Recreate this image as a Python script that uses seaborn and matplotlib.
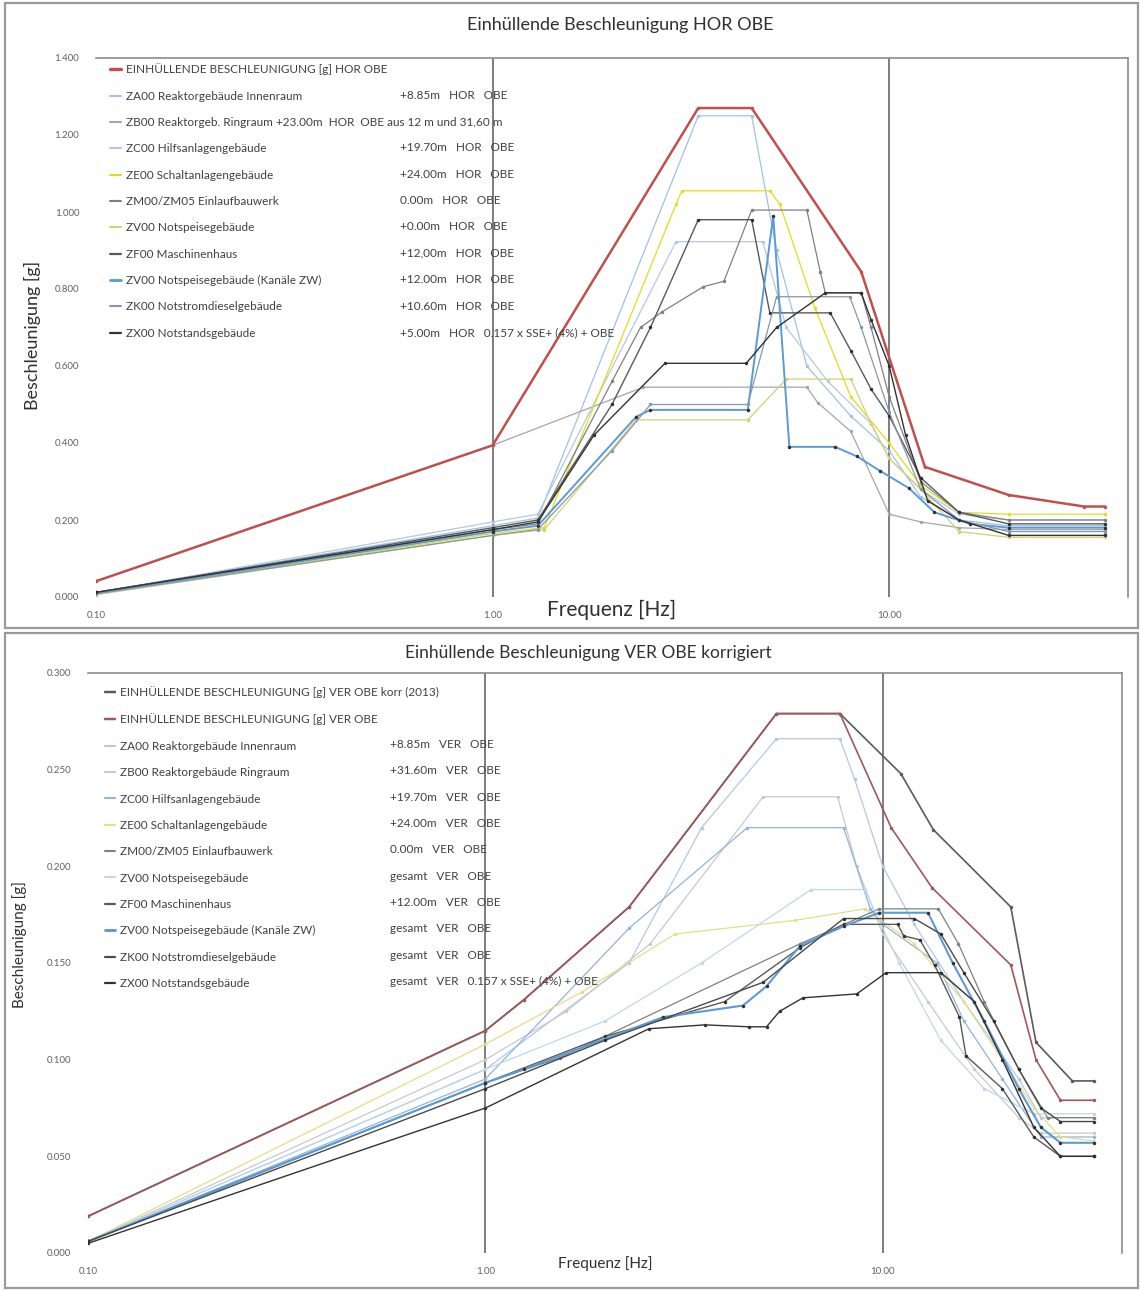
import matplotlib
matplotlib.use("Agg")
import matplotlib.pyplot as plt
from matplotlib.lines import Line2D
from matplotlib.patches import Rectangle
from matplotlib.ticker import FixedLocator, FixedFormatter, NullLocator
import seaborn as sns

sns.set_theme(style="white")
plt.rcParams['font.family'] = ['Lato', 'DejaVu Sans']

# ---------------- Daten HOR OBE (oberes Diagramm) ----------------
hor_env_f = [0.1, 1.0, 3.3, 4.5, 8.5, 12.3, 20.0, 31.0, 35.0]
hor_env_g = [0.041, 0.394, 1.270, 1.270, 0.845, 0.338, 0.265, 0.235, 0.235]

hor_za_f = [0.1, 1.0, 1.3, 3.3, 4.5, 5.2, 6.2, 8.0, 10.0, 12.0, 15.0, 20.0, 35.0]
hor_za_g = [0.012, 0.185, 0.205, 1.250, 1.250, 0.900, 0.600, 0.470, 0.380, 0.260, 0.200, 0.185, 0.185]

hor_zb_f = [0.1, 1.0, 2.4, 6.2, 6.6, 8.0, 10.0, 12.0, 15.0, 20.0, 35.0]
hor_zb_g = [0.041, 0.394, 0.545, 0.545, 0.505, 0.430, 0.215, 0.195, 0.180, 0.175, 0.175]

hor_zc_f = [0.1, 1.0, 1.3, 2.9, 4.8, 5.5, 7.0, 9.0, 10.0, 12.0, 15.0, 20.0, 35.0]
hor_zc_g = [0.010, 0.195, 0.215, 0.923, 0.923, 0.700, 0.560, 0.450, 0.360, 0.280, 0.215, 0.200, 0.200]

hor_ze_f = [0.1, 1.0, 1.35, 2.9, 3.0, 5.0, 5.3, 6.5, 8.0, 10.0, 12.0, 15.0, 20.0, 35.0]
hor_ze_g = [0.008, 0.165, 0.180, 1.020, 1.055, 1.055, 1.020, 0.750, 0.520, 0.400, 0.290, 0.220, 0.215, 0.215]

hor_zm_f = [0.1, 1.0, 1.3, 2.0, 2.36, 2.67, 3.4, 3.83, 4.5, 6.2, 6.7, 6.9, 8.5, 9.0, 10.0, 12.0, 15.0, 20.0, 35.0]
hor_zm_g = [0.010, 0.175, 0.190, 0.560, 0.700, 0.740, 0.806, 0.820, 1.005, 1.005, 0.845, 0.790, 0.790, 0.700, 0.520, 0.300, 0.220, 0.200, 0.200]

hor_zv_f = [0.1, 1.0, 1.35, 2.3, 4.4, 5.5, 8.0, 9.0, 10.0, 12.0, 15.0, 20.0, 35.0]
hor_zv_g = [0.006, 0.160, 0.175, 0.460, 0.460, 0.566, 0.566, 0.450, 0.360, 0.280, 0.170, 0.155, 0.155]

hor_zf_f = [0.1, 1.0, 1.3, 2.0, 2.5, 3.3, 4.5, 5.0, 7.1, 8.0, 9.0, 10.0, 12.0, 15.0, 20.0, 35.0]
hor_zf_g = [0.012, 0.180, 0.200, 0.500, 0.700, 0.980, 0.980, 0.738, 0.738, 0.640, 0.540, 0.470, 0.310, 0.220, 0.190, 0.190]

hor_zw_f = [0.1, 1.0, 1.3, 2.3, 2.5, 4.4, 5.1, 5.6, 7.3, 8.3, 9.5, 11.2, 13.0, 16.0, 20.0, 35.0]
hor_zw_g = [0.010, 0.170, 0.185, 0.468, 0.486, 0.486, 0.990, 0.390, 0.390, 0.365, 0.327, 0.283, 0.220, 0.190, 0.180, 0.180]

hor_zk_f = [0.1, 1.0, 1.3, 2.0, 2.5, 4.4, 5.2, 7.95, 8.5, 10.0, 12.0, 15.0, 20.0, 35.0]
hor_zk_g = [0.008, 0.160, 0.175, 0.380, 0.500, 0.500, 0.780, 0.780, 0.700, 0.480, 0.280, 0.200, 0.170, 0.170]

hor_zx_f = [0.1, 1.0, 1.3, 1.8, 2.72, 4.36, 5.2, 6.9, 8.5, 9.0, 10.0, 11.0, 12.5, 15.0, 20.0, 35.0]
hor_zx_g = [0.012, 0.175, 0.195, 0.420, 0.607, 0.607, 0.700, 0.790, 0.790, 0.720, 0.600, 0.420, 0.250, 0.200, 0.160, 0.160]

hor_names = [
    "EINHÜLLENDE BESCHLEUNIGUNG [g] HOR OBE",
    "ZA00 Reaktorgebäude Innenraum",
    "ZB00 Reaktorgeb. Ringraum +23.00m  HOR  OBE aus 12 m und 31,60 m",
    "ZC00 Hilfsanlagengebäude",
    "ZE00 Schaltanlagengebäude",
    "ZM00/ZM05 Einlaufbauwerk",
    "ZV00 Notspeisegebäude",
    "ZF00 Maschinenhaus",
    "ZV00 Notspeisegebäude (Kanäle ZW)",
    "ZK00 Notstromdieselgebäude",
    "ZX00 Notstandsgebäude",
]
hor_suffix = [
    " ", "+8.85m   HOR   OBE", " ", "+19.70m   HOR   OBE", "+24.00m   HOR   OBE",
    "0.00m   HOR   OBE", "+0.00m   HOR   OBE", "+12,00m   HOR   OBE", "+12.00m   HOR   OBE",
    "+10.60m   HOR   OBE", "+5.00m   HOR   0.157 x SSE+ (4%) + OBE",
]

# ---------------- Daten VER OBE korrigiert (unteres Diagramm) ----------------
ver_envk_f = [0.1, 1.0, 1.25, 2.3, 5.4, 7.8, 11.1, 13.4, 21.0, 24.3, 30.0, 34.0]
ver_envk_g = [0.019, 0.115, 0.131, 0.179, 0.279, 0.279, 0.248, 0.219, 0.179, 0.109, 0.089, 0.089]

ver_env_f = [0.1, 1.0, 1.25, 2.3, 5.4, 7.8, 10.5, 13.3, 21.0, 24.3, 28.0, 34.0]
ver_env_g = [0.019, 0.115, 0.131, 0.179, 0.279, 0.279, 0.220, 0.189, 0.149, 0.100, 0.079, 0.079]

ver_za_f = [0.1, 1.0, 2.3, 3.5, 5.4, 7.8, 8.5, 10.0, 12.0, 16.0, 22.0, 25.0, 34.0]
ver_za_g = [0.006, 0.095, 0.150, 0.220, 0.266, 0.266, 0.245, 0.200, 0.170, 0.130, 0.090, 0.070, 0.070]

ver_zb_f = [0.1, 1.0, 1.6, 2.6, 5.0, 7.7, 8.6, 10.0, 13.0, 17.0, 22.0, 25.0, 34.0]
ver_zb_g = [0.006, 0.100, 0.125, 0.160, 0.236, 0.236, 0.200, 0.165, 0.130, 0.095, 0.070, 0.062, 0.062]

ver_zc_f = [0.1, 1.0, 2.3, 4.56, 7.97, 9.3, 10.0, 13.7, 16.0, 20.0, 25.0, 34.0]
ver_zc_g = [0.006, 0.090, 0.168, 0.220, 0.220, 0.178, 0.170, 0.150, 0.120, 0.090, 0.060, 0.060]

ver_ze_f = [0.1, 1.0, 1.75, 3.0, 6.0, 9.0, 12.0, 16.0, 20.0, 24.0, 28.0, 34.0]
ver_ze_g = [0.006, 0.108, 0.135, 0.165, 0.172, 0.178, 0.160, 0.130, 0.100, 0.075, 0.060, 0.058]

ver_zm_f = [0.1, 1.0, 1.54, 6.2, 9.8, 13.8, 15.5, 18.0, 22.0, 26.0, 34.0]
ver_zm_g = [0.006, 0.088, 0.101, 0.160, 0.178, 0.178, 0.160, 0.130, 0.095, 0.070, 0.070]

ver_zv_f = [0.1, 1.0, 2.0, 3.5, 6.6, 9.0, 11.0, 14.0, 18.0, 24.0, 34.0]
ver_zv_g = [0.006, 0.095, 0.120, 0.150, 0.188, 0.188, 0.150, 0.110, 0.085, 0.072, 0.072]

ver_zf_f = [0.1, 1.0, 2.0, 4.0, 6.2, 7.97, 10.9, 11.3, 12.4, 13.5, 15.6, 16.2, 20.0, 24.0, 28.0, 34.0]
ver_zf_g = [0.006, 0.088, 0.112, 0.130, 0.158, 0.170, 0.170, 0.164, 0.162, 0.149, 0.122, 0.102, 0.085, 0.060, 0.050, 0.050]

ver_zw_f = [0.1, 1.0, 1.25, 2.8, 4.45, 5.1, 6.2, 7.97, 9.8, 13.0, 15.0, 18.0, 22.0, 25.0, 28.0, 34.0]
ver_zw_g = [0.006, 0.088, 0.095, 0.122, 0.128, 0.138, 0.159, 0.169, 0.176, 0.176, 0.150, 0.120, 0.085, 0.065, 0.057, 0.057]

ver_zk_f = [0.1, 1.0, 2.0, 5.0, 7.97, 12.0, 14.0, 16.0, 19.0, 22.0, 25.0, 28.0, 34.0]
ver_zk_g = [0.006, 0.085, 0.110, 0.140, 0.173, 0.173, 0.165, 0.145, 0.120, 0.095, 0.075, 0.068, 0.068]

ver_zx_f = [0.1, 1.0, 2.58, 3.57, 4.6, 5.1, 5.5, 6.3, 8.6, 10.2, 14.0, 17.0, 20.0, 24.0, 28.0, 34.0]
ver_zx_g = [0.005, 0.075, 0.116, 0.118, 0.117, 0.117, 0.125, 0.132, 0.134, 0.145, 0.145, 0.130, 0.100, 0.065, 0.050, 0.050]

ver_names = [
    "EINHÜLLENDE BESCHLEUNIGUNG [g] VER OBE korr (2013)",
    "EINHÜLLENDE BESCHLEUNIGUNG [g] VER OBE",
    "ZA00 Reaktorgebäude Innenraum",
    "ZB00 Reaktorgebäude Ringraum",
    "ZC00 Hilfsanlagengebäude",
    "ZE00 Schaltanlagengebäude",
    "ZM00/ZM05 Einlaufbauwerk",
    "ZV00 Notspeisegebäude",
    "ZF00 Maschinenhaus",
    "ZV00 Notspeisegebäude (Kanäle ZW)",
    "ZK00 Notstromdieselgebäude",
    "ZX00 Notstandsgebäude",
]
ver_suffix = [
    " ", " ", "+8.85m   VER   OBE", "+31.60m   VER   OBE", "+19.70m   VER   OBE",
    "+24.00m   VER   OBE", "0.00m   VER   OBE", "gesamt   VER   OBE", "+12.00m   VER   OBE",
    "gesamt   VER   OBE", "gesamt   VER   OBE", "gesamt   VER   0.157 x SSE+ (4%) + OBE",
]

# Farben / Linienstärken (Reihenfolge wie Legende)
hor_colors = ['#c0504d', '#9dc3e6', '#a6a6a6', '#b4c7e7', '#e3dc1c', '#808080',
              '#d6cf73', '#595959', '#5b9bd5', '#8497b0', '#333333']
hor_widths = [1.8, 0.9, 0.9, 0.9, 0.9, 0.9, 0.9, 1.0, 1.4, 0.9, 1.0]
ver_colors = ['#5a5a5a', '#a0585a', '#b4c7e7', '#c9c9c9', '#8fb4de', '#e3de8a',
              '#808080', '#bdd7ee', '#595959', '#5b9bd5', '#4a4a4a', '#333333']
ver_widths = [1.2, 1.2, 0.9, 0.9, 0.9, 0.9, 0.9, 0.9, 1.0, 1.5, 1.0, 1.0]

hor_series = [(hor_env_f, hor_env_g), (hor_za_f, hor_za_g), (hor_zb_f, hor_zb_g),
              (hor_zc_f, hor_zc_g), (hor_ze_f, hor_ze_g), (hor_zm_f, hor_zm_g),
              (hor_zv_f, hor_zv_g), (hor_zf_f, hor_zf_g), (hor_zw_f, hor_zw_g),
              (hor_zk_f, hor_zk_g), (hor_zx_f, hor_zx_g)]
ver_series = [(ver_envk_f, ver_envk_g), (ver_env_f, ver_env_g), (ver_za_f, ver_za_g),
              (ver_zb_f, ver_zb_g), (ver_zc_f, ver_zc_g), (ver_ze_f, ver_ze_g),
              (ver_zm_f, ver_zm_g), (ver_zv_f, ver_zv_g), (ver_zf_f, ver_zf_g),
              (ver_zw_f, ver_zw_g), (ver_zk_f, ver_zk_g), (ver_zx_f, ver_zx_g)]

W, H = 1141, 1291
fig = plt.figure(figsize=(W / 100, H / 100), dpi=100)
fig.patch.set_facecolor('white')

ax1 = fig.add_axes([96 / W, 1 - 597 / H, 1032 / W, 539 / H])
ax2 = fig.add_axes([88 / W, 1 - 1253 / H, 1034 / W, 580 / H])

TXT = '#404040'


def draw_panel(ax, series, colors, widths, names, suffix, n_env, ymax, ystep,
               leg_x0, leg_x1, leg_y, fs):
    handles = []
    # erst die Bauwerkskurven, dann die Einhüllende(n) oben drauf
    order = list(range(n_env, len(series))) + list(range(n_env))
    for i in order:
        f, g = series[i]
        col = colors[i]
        mcol = '#303030' if i >= n_env and widths[i] >= 1.0 else col
        sns.lineplot(x=f, y=g, ax=ax, color=col, lw=widths[i], marker='o',
                     markersize=2.5, markerfacecolor=mcol, markeredgecolor=mcol,
                     markeredgewidth=0, estimator=None, sort=False, legend=False,
                     zorder=5 if i < n_env else 3)
    for i in range(len(series)):
        handles.append(Line2D([0], [0], color=colors[i], lw=widths[i] + 0.6))

    ax.set_xscale('log')
    ax.set_xlim(0.1, 40)
    ax.set_ylim(0, ymax)
    ax.xaxis.set_major_locator(FixedLocator([0.1, 1, 10]))
    ax.xaxis.set_major_formatter(FixedFormatter(['0.10', '1.00', '10.00']))
    ax.xaxis.set_minor_locator(NullLocator())
    nt = int(round(ymax / ystep)) + 1
    yt = [k * ystep for k in range(nt)]
    ax.set_yticks(yt)
    ax.set_yticklabels([f"{v:.3f}" for v in yt])
    ax.tick_params(axis='both', length=0, labelsize=7, colors='#606060')
    ax.tick_params(axis='y', pad=12)
    ax.tick_params(axis='x', pad=10)
    for s in ['left', 'bottom']:
        ax.spines[s].set_visible(False)
    for s in ['top', 'right']:
        ax.spines[s].set_color('#8c8c8c')
        ax.spines[s].set_linewidth(1.2)
    ax.axvline(1, color='#5a5a5a', lw=1.1, zorder=1)
    ax.axvline(10, color='#5a5a5a', lw=1.1, zorder=1)
    ax.set_facecolor('white')

    leg1 = ax.legend(handles, names, loc='upper left', bbox_to_anchor=(leg_x0, leg_y),
                     frameon=False, fontsize=fs, labelspacing=1.3, handlelength=0.9,
                     handletextpad=0.4, borderpad=0, borderaxespad=0, labelcolor=TXT)
    ax.add_artist(leg1)
    blank = [Line2D([], [], lw=0) for _ in suffix]
    ax.legend(blank, suffix, loc='upper left', bbox_to_anchor=(leg_x1, leg_y),
              frameon=False, fontsize=fs, labelspacing=1.3, handlelength=0,
              handletextpad=0, borderpad=0, borderaxespad=0, labelcolor=TXT)


draw_panel(ax1, hor_series, hor_colors, hor_widths, hor_names, hor_suffix, 1,
           1.4, 0.2, 0.014, 0.295, 0.99, 8.5)
draw_panel(ax2, ver_series, ver_colors, ver_widths, ver_names, ver_suffix, 2,
           0.3, 0.05, 0.016, 0.292, 0.977, 8.5)

# Achsenbeschriftungen
fig.text(620 / W, 1 - 25 / H, "Einhüllende Beschleunigung HOR OBE", ha='center',
         va='center', fontsize=13, color='#303030')
fig.text(588 / W, 1 - 653 / H, "Einhüllende Beschleunigung VER OBE korrigiert",
         ha='center', va='center', fontsize=12.5, color='#303030')
fig.text(32 / W, 1 - 335 / H, "Beschleunigung [g]", rotation=90, ha='center',
         va='center', fontsize=13, color='#303030')
fig.text(20 / W, 1 - 945 / H, "Beschleunigung [g]", rotation=90, ha='center',
         va='center', fontsize=11, color='#303030')
fig.text(612 / W, 1 - 610 / H, "Frequenz [Hz]", ha='center', va='center',
         fontsize=15, color='#303030')
fig.text(605 / W, 1 - 1264 / H, "Frequenz [Hz]", ha='center', va='center',
         fontsize=11, color='#303030')

# Rahmen der beiden Diagramme
for (x0, y0, x1, y1) in [(5, 3, 1138, 628), (5, 633, 1138, 1288)]:
    fig.patches.append(Rectangle((x0 / W, 1 - y1 / H), (x1 - x0) / W, (y1 - y0) / H,
                                 transform=fig.transFigure, fill=False,
                                 ec='#9a9a9a', lw=1.6))

fig.savefig('out.png', dpi=100)
